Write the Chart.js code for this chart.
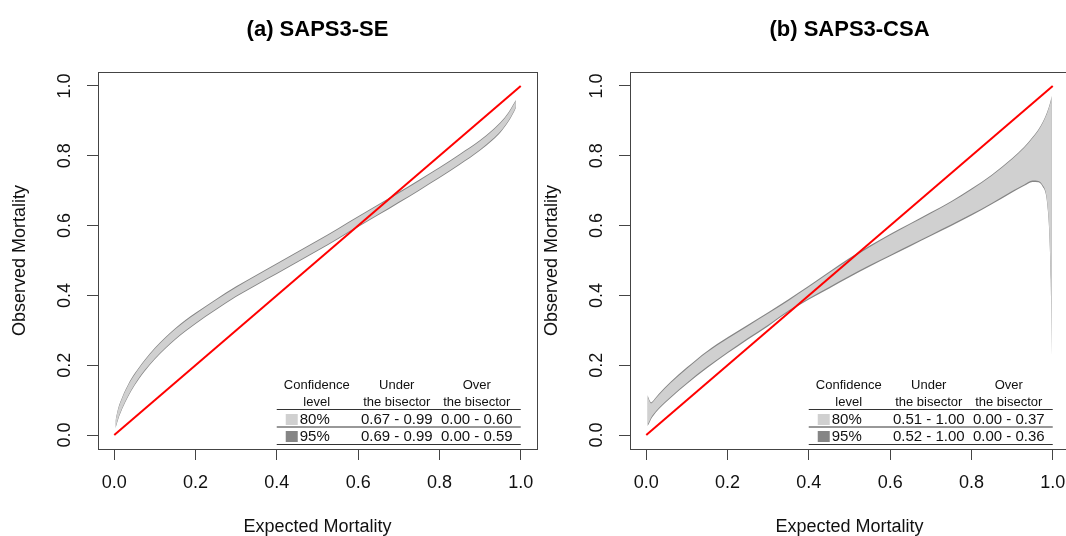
<!DOCTYPE html>
<html>
<head>
<meta charset="utf-8">
<title>Calibration belts</title>
<script src="https://cdn.jsdelivr.net/npm/chart.js@4.4.1/dist/chart.umd.min.js"></script>
<style>
  html, body { margin: 0; padding: 0; background: #fff; overflow: hidden; }
  body { width: 1066px; height: 536px; position: relative; }
  canvas { position: absolute; top: 0; }
  #beltSE { left: 0; }
  #beltCSA { left: 532px; }
</style>
</head>
<body>
<canvas id="beltSE" width="560" height="536"></canvas>
<canvas id="beltCSA" width="560" height="536"></canvas>
<script>
// axis ticks shared by both panels
const axisTicks = [0, 0.2, 0.4, 0.6, 0.8, 1.0];
const bisector = [0, 1];

// (a) SAPS3-SE belt: expected mortality and belt limits
const seExpected = [0.003, 0.01, 0.02, 0.035, 0.05, 0.075, 0.1, 0.15, 0.2, 0.25, 0.3, 0.35, 0.4, 0.45, 0.5, 0.55, 0.6, 0.65, 0.7, 0.75, 0.8, 0.85, 0.9, 0.93, 0.95, 0.97, 0.98, 0.988];
const seUpper95 = [0.042, 0.078, 0.110, 0.147, 0.176, 0.216, 0.250, 0.306, 0.350, 0.389, 0.426, 0.459, 0.492, 0.525, 0.558, 0.592, 0.627, 0.661, 0.696, 0.731, 0.767, 0.805, 0.845, 0.874, 0.896, 0.925, 0.944, 0.960];
const seLower95 = [0.019, 0.046, 0.076, 0.112, 0.142, 0.183, 0.217, 0.273, 0.318, 0.358, 0.396, 0.429, 0.461, 0.494, 0.527, 0.561, 0.596, 0.630, 0.665, 0.700, 0.736, 0.774, 0.815, 0.844, 0.867, 0.898, 0.918, 0.937];
const seUpper80 = [0.040, 0.075, 0.107, 0.144, 0.173, 0.213, 0.247, 0.303, 0.347, 0.386, 0.423, 0.456, 0.489, 0.522, 0.555, 0.589, 0.624, 0.658, 0.693, 0.728, 0.764, 0.802, 0.842, 0.871, 0.893, 0.922, 0.941, 0.957];
const seLower80 = [0.021, 0.049, 0.079, 0.115, 0.145, 0.186, 0.220, 0.276, 0.321, 0.361, 0.399, 0.432, 0.464, 0.497, 0.530, 0.564, 0.599, 0.633, 0.668, 0.703, 0.739, 0.777, 0.818, 0.847, 0.870, 0.901, 0.921, 0.940];

// (b) SAPS3-CSA belt
const csaExpected = [0.003, 0.008, 0.012, 0.018, 0.03, 0.06, 0.1, 0.15, 0.2, 0.25, 0.3, 0.35, 0.4, 0.45, 0.5, 0.55, 0.6, 0.65, 0.7, 0.75, 0.8, 0.85, 0.9, 0.93, 0.95, 0.965, 0.975, 0.983, 0.987, 0.991, 0.995, 0.9975];
const csaUpper95 = [0.115, 0.100, 0.094, 0.100, 0.117, 0.153, 0.194, 0.241, 0.280, 0.316, 0.352, 0.389, 0.428, 0.468, 0.507, 0.543, 0.576, 0.607, 0.638, 0.670, 0.706, 0.746, 0.793, 0.826, 0.853, 0.876, 0.896, 0.916, 0.928, 0.942, 0.958, 0.972];
const csaLower95 = [0.025, 0.036, 0.046, 0.056, 0.073, 0.106, 0.146, 0.192, 0.234, 0.274, 0.312, 0.353, 0.388, 0.420, 0.452, 0.483, 0.512, 0.541, 0.570, 0.599, 0.629, 0.661, 0.695, 0.714, 0.725, 0.724, 0.712, 0.690, 0.655, 0.590, 0.445, 0.225];
const csaUpper80 = [0.111, 0.097, 0.091, 0.097, 0.113, 0.149, 0.190, 0.237, 0.276, 0.312, 0.348, 0.385, 0.424, 0.464, 0.503, 0.539, 0.572, 0.604, 0.635, 0.667, 0.703, 0.743, 0.790, 0.823, 0.850, 0.873, 0.893, 0.913, 0.925, 0.939, 0.955, 0.969];
const csaLower80 = [0.029, 0.040, 0.050, 0.060, 0.077, 0.110, 0.150, 0.196, 0.238, 0.278, 0.316, 0.357, 0.392, 0.424, 0.456, 0.487, 0.516, 0.545, 0.574, 0.603, 0.633, 0.665, 0.699, 0.718, 0.729, 0.728, 0.716, 0.694, 0.659, 0.594, 0.449, 0.229];

// summary table under each belt
const tableHeadTop = ['Confidence', 'Under', 'Over'];
const tableHeadBottom = ['level', 'the bisector', 'the bisector'];
const confLevels = ['80%', '95%'];
const seUnder = ['0.67 - 0.99', '0.69 - 0.99'];
const seOver = ['0.00 - 0.60', '0.00 - 0.59'];
const csaUnder = ['0.51 - 1.00', '0.52 - 1.00'];
const csaOver = ['0.00 - 0.37', '0.00 - 0.36'];

const band80Color = '#d0d0d0';
const band95Color = '#858585';
const fontFamily = '"Liberation Sans", Arial, Helvetica, sans-serif';

Chart.defaults.font.family = fontFamily;
Chart.defaults.color = '#000';

// frame around the plotting region
const plotBox = {
  id: 'plotBox',
  afterDatasetsDraw(chart) {
    const { ctx, chartArea: a } = chart;
    ctx.save();
    ctx.strokeStyle = '#444';
    ctx.lineWidth = 1;
    ctx.strokeRect(Math.round(a.left) + 0.5, Math.round(a.top) + 0.5,
      Math.round(a.right - a.left), Math.round(a.bottom - a.top));
    ctx.restore();
  }
};

// confidence level table in the lower right corner
const beltTable = {
  id: 'beltTable',
  afterDraw(chart, args, opts) {
    const ctx = chart.ctx;
    const right = chart.scales.x.getPixelForValue(1);
    const base = chart.chartArea.bottom;
    const left = right - 244;
    const cols = [right - 204, right - 124, right - 44];
    ctx.save();
    ctx.fillStyle = '#111';
    ctx.textBaseline = 'middle';
    ctx.textAlign = 'center';
    ctx.font = '13px ' + fontFamily;
    tableHeadTop.forEach((t, i) => ctx.fillText(t, cols[i], base - 64));
    tableHeadBottom.forEach((t, i) => ctx.fillText(t, cols[i], base - 47));

    ctx.strokeStyle = '#333';
    ctx.lineWidth = 1.2;
    [base - 39.5, base - 22, base - 4.5].forEach(y => {
      ctx.beginPath();
      ctx.moveTo(left, y);
      ctx.lineTo(right, y);
      ctx.stroke();
    });

    ctx.font = '15px ' + fontFamily;
    confLevels.forEach((lvl, i) => {
      const y = base - 30 + i * 17;
      ctx.fillStyle = i === 0 ? band80Color : band95Color;
      ctx.fillRect(right - 235, y - 5, 12, 11);
      ctx.fillStyle = '#111';
      ctx.textAlign = 'left';
      ctx.fillText(lvl, right - 221, y + 1);
      ctx.textAlign = 'center';
      ctx.fillText(opts.under[i], cols[1], y + 1);
      ctx.fillText(opts.over[i], cols[2], y + 1);
    });
    ctx.restore();
  }
};

function makeAxis(pos, label) {
  const vertical = pos === 'left';
  return {
    type: 'linear',
    position: pos,
    min: -0.04,
    max: 1.04,
    afterBuildTicks: s => { s.ticks = axisTicks.map(v => ({ value: v })); },
    afterFit: s => { if (vertical) s.width = 98; else s.height = 87; },
    grid: { drawOnChartArea: false, drawTicks: true, tickLength: 11, color: '#444', lineWidth: 1 },
    border: { display: false },
    ticks: {
      font: { size: 18, lineHeight: 1 },
      color: '#111',
      padding: vertical ? 9 : 14,
      minRotation: vertical ? 90 : 0,
      maxRotation: vertical ? 90 : 0,
      crossAlign: vertical ? 'center' : 'near',
      callback: v => v.toFixed(1)
    },
    title: {
      display: true,
      text: label,
      color: '#111',
      font: { size: 18, lineHeight: 1 },
      padding: vertical ? { top: 11, bottom: 0 } : { top: 0, bottom: 0 }
    }
  };
}

function beltDatasets(xs, up95, lo95, up80, lo80) {
  const pts = ys => xs.map((x, i) => ({ x: x, y: ys[i] }));
  const band = (data, fill, color, order) => ({
    data: data,
    fill: fill,
    backgroundColor: color,
    borderColor: 'transparent',
    borderWidth: 0,
    pointRadius: 0,
    cubicInterpolationMode: 'monotone',
    order: order
  });
  return [
    {
      data: bisector.map(v => ({ x: v, y: v })),
      borderColor: '#ff0000',
      borderWidth: 2,
      pointRadius: 0,
      fill: false,
      order: 0
    },
    band(pts(up80), '+1', band80Color, 1),
    band(pts(lo80), false, band80Color, 1),
    band(pts(up95), '+1', band95Color, 2),
    band(pts(lo95), false, band95Color, 2)
  ];
}

function drawBelt(id, title, datasets, under, over) {
  new Chart(document.getElementById(id), {
    type: 'line',
    data: { datasets: datasets },
    options: {
      responsive: false,
      animation: false,
      devicePixelRatio: 1,
      layout: { padding: { left: 0, right: 23, top: 0, bottom: 0 } },
      scales: {
        x: makeAxis('bottom', 'Expected Mortality'),
        y: makeAxis('left', 'Observed Mortality')
      },
      plugins: {
        legend: { display: false },
        tooltip: { enabled: false },
        title: {
          display: true,
          text: title,
          fullSize: false,
          color: '#000',
          font: { size: 22, weight: 'bold', lineHeight: 1.2 },
          padding: { top: 16.8, bottom: 28.8 }
        },
        beltTable: { under: under, over: over }
      }
    },
    plugins: [plotBox, beltTable]
  });
}

drawBelt('beltSE', '(a) SAPS3-SE',
  beltDatasets(seExpected, seUpper95, seLower95, seUpper80, seLower80), seUnder, seOver);
drawBelt('beltCSA', '(b) SAPS3-CSA',
  beltDatasets(csaExpected, csaUpper95, csaLower95, csaUpper80, csaLower80), csaUnder, csaOver);
</script>
</body>
</html>
